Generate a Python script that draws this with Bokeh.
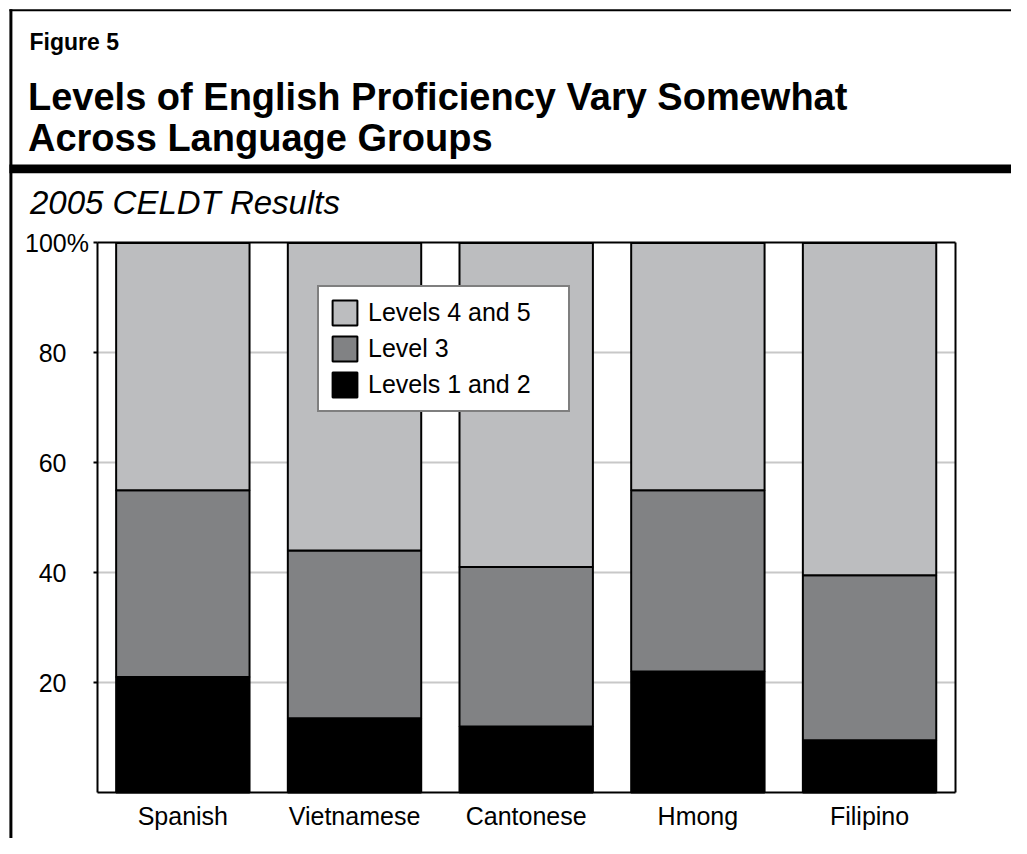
from bokeh.plotting import figure
from bokeh.models import (Range1d, FixedTicker, Label, BoxAnnotation, LinearAxis)
from bokeh.embed import file_html
from bokeh.resources import INLINE

# ---- data ----
categories = ["Spanish", "Vietnamese", "Cantonese", "Hmong", "Filipino"]
levels_1_2 = [21, 13.5, 12, 22, 9.5]
level_3 = [34, 30.5, 29, 33, 30]
levels_4_5 = [45, 56, 59, 45, 60.5]
series_names = ["Levels 1 and 2", "Level 3", "Levels 4 and 5"]
tick_values = [20, 40, 60, 80, 100]
tick_labels = ["20", "40", "60", "80", "100%"]

fig_label = "Figure 5"
title_lines = ["Levels of English Proficiency Vary Somewhat", "Across Language Groups"]
subtitle = "2005 CELDT Results"

FONT = "Liberation Sans"
colors = ["#000000", "#818284", "#bcbdbf"]

# ---- layout (pixels) ----
W, H = 1011, 838
BOX_L, BOX_R, BOX_T, BOX_B = 96.5, 954.9, 242.4, 791.9
n = len(categories)
ux = (BOX_R - BOX_L) / n
uy = (BOX_B - BOX_T) / 100.0
x_range = Range1d(-BOX_L / ux, (W - BOX_L) / ux)
y_range = Range1d(-(H - BOX_B) / uy, 100 + BOX_T / uy)

p = figure(width=W, height=H, x_range=x_range, y_range=y_range,
           output_backend="svg", toolbar_location=None,
           x_axis_location=None, y_axis_location=None,
           min_border=0, min_border_left=0, min_border_right=0,
           min_border_top=0, min_border_bottom=0)
p.outline_line_color = None
p.xgrid.grid_line_color = None

xpos = [i + 0.5 for i in range(n)]
data = {"x": xpos, "l12": levels_1_2, "l3": level_3, "l45": levels_4_5}
p.vbar_stack(["l12", "l3", "l45"], x="x", width=0.777, source=data,
             color=colors, line_color="black", line_width=2,
             legend_label=series_names)

# grid
p.ygrid.ticker = FixedTicker(ticks=tick_values[:-1])
p.ygrid.grid_line_color = "#c8c8c8"
p.ygrid.grid_line_width = 2
p.ygrid.cross_bounds = (0, n)

def style_labels(ax, size="25px", color="black"):
    ax.major_label_text_font = FONT
    ax.major_label_text_font_size = size
    ax.major_label_text_color = color
    ax.minor_tick_line_color = None

# y axis: line, ticks and the "%" label
ya = LinearAxis(fixed_location=0, bounds=(0, 100), ticker=FixedTicker(ticks=tick_values))
ya.major_label_overrides = {v: (l if "%" in l else " ") for v, l in zip(tick_values, tick_labels)}
ya.axis_line_width = 2
ya.axis_line_color = "black"
ya.major_tick_out = 4
ya.major_tick_in = 0
ya.major_tick_line_width = 2
ya.major_tick_line_color = "black"
ya.major_label_standoff = 4
style_labels(ya)
p.add_layout(ya, "left")

# y axis: plain numeric labels, right edge lined up with the digits of "100"
LBL_X = 66.0  # px from canvas left where the plain labels end
plain = [v for v, l in zip(tick_values, tick_labels) if "%" not in l]
ya2 = LinearAxis(fixed_location=(LBL_X - BOX_L) / ux, bounds=(0, 100), ticker=FixedTicker(ticks=plain))
ya2.major_label_overrides = {v: l for v, l in zip(tick_values, tick_labels) if "%" not in l}
ya2.axis_line_color = None
ya2.major_tick_line_color = None
ya2.major_tick_out = 0
ya2.major_tick_in = 0
ya2.major_label_standoff = 0
style_labels(ya2)
p.add_layout(ya2, "left")

# x axis
xa = LinearAxis(fixed_location=0, bounds=(0, n), ticker=FixedTicker(ticks=xpos))
xa.major_label_overrides = {x: c for x, c in zip(xpos, categories)}
xa.axis_line_width = 2
xa.axis_line_color = "black"
xa.major_tick_line_color = None
xa.major_tick_out = 0
xa.major_tick_in = 0
xa.major_label_standoff = 10
style_labels(xa)
p.add_layout(xa, "below")

# box top and right edges
for loc, side, bnds in [(100, "above", (0, n)), (n, "right", (0, 100))]:
    ax = LinearAxis(fixed_location=loc, bounds=bnds, ticker=FixedTicker(ticks=[]))
    ax.axis_line_width = 2
    ax.axis_line_color = "black"
    ax.major_tick_line_color = None
    ax.minor_tick_line_color = None
    ax.major_label_text_font_size = "0px"
    p.add_layout(ax, side)

# legend
leg = p.legend[0]
leg.items = list(reversed(leg.items))
leg.location = (317, 426)
leg.border_line_color = "black"
leg.border_line_width = 2
leg.background_fill_color = "white"
leg.background_fill_alpha = 1
leg.label_text_font = FONT
leg.label_text_font_size = "25px"
leg.label_text_color = "black"
leg.glyph_width = 31
leg.glyph_height = 31
leg.label_height = 31
leg.label_width = 190
leg.spacing = 5
leg.padding = 10
leg.margin = 0
leg.label_standoff = 8

# header texts (screen units, y measured up from canvas bottom)
def label(x, y_from_top, text, size, style):
    p.add_layout(Label(x=x, y=H - y_from_top, x_units="screen", y_units="screen", text=text,
                       text_font=FONT, text_font_style=style, text_font_size=size,
                       text_color="black", text_baseline="alphabetic"))

label(29, 41, fig_label, "23px", "bold")
label(27.5, 96, title_lines[0], "38px", "bold")
label(27.5, 137, title_lines[1], "38px", "bold")
label(29.5, 202, subtitle, "33px", "italic")

# decorative frame lines
def box(l, r, t, b):
    p.add_layout(BoxAnnotation(left=l, right=r, bottom=H - b, top=H - t,
                               left_units="screen", right_units="screen",
                               bottom_units="screen", top_units="screen",
                               fill_color="black", fill_alpha=1, line_alpha=0))

box(8.9, 11.9, 8.8, H)          # left border
box(8.9, W, 8.8, 10.8)          # top border
box(8.9, W, 163.9, 172.7)       # thick rule

open("out.html", "w").write(file_html(p, INLINE))
